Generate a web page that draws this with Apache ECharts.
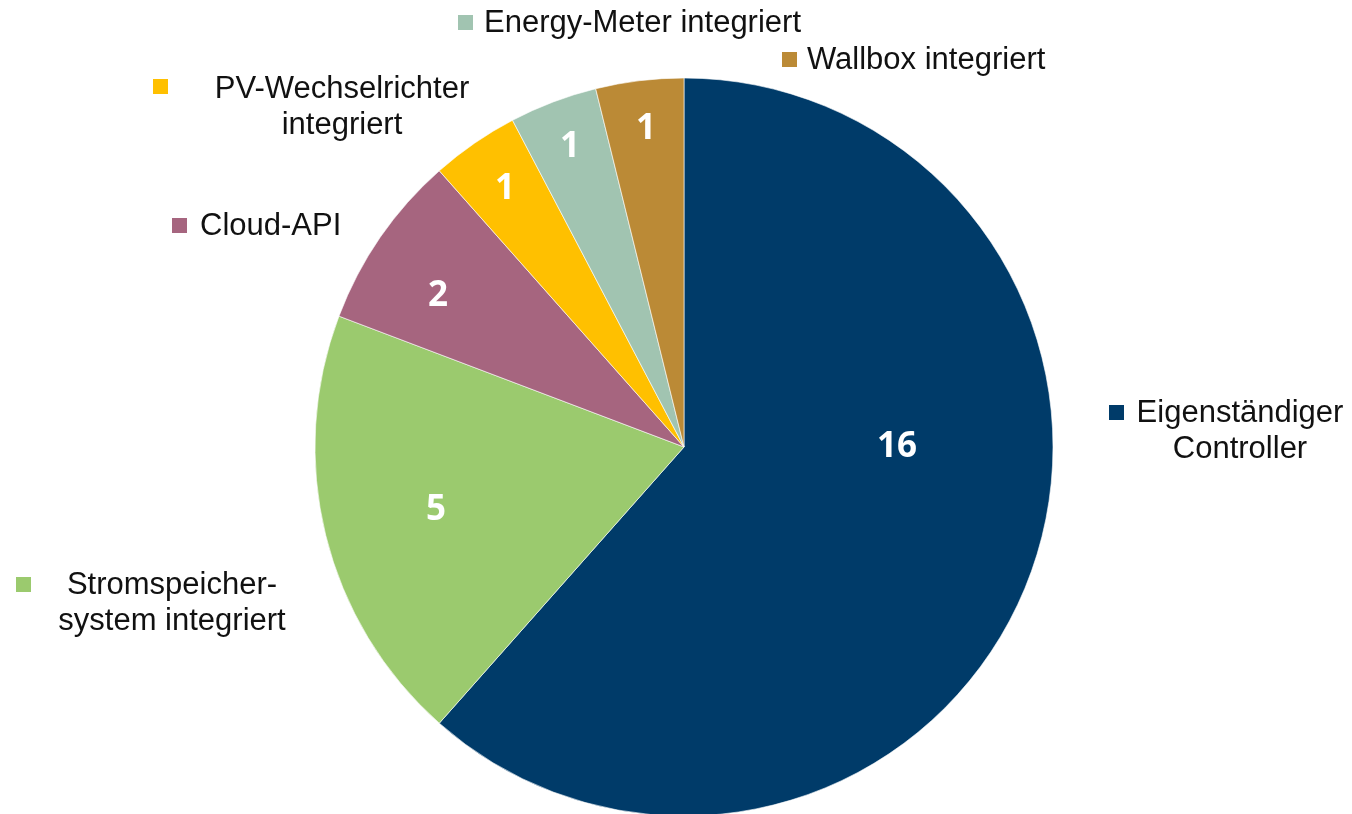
<!DOCTYPE html>
<html>
<head>
<meta charset="utf-8">
<script src="https://cdn.jsdelivr.net/npm/echarts@6/dist/echarts.min.js"></script>
<style>
html,body{margin:0;padding:0;background:#fff;}
#chart{width:1352px;height:814px;}
</style>
</head>
<body>
<div id="chart"></div>
<script>
// Data
var categories = ['Eigenständiger\nController', 'Stromspeicher-\nsystem integriert', 'Cloud-API', 'PV-Wechselrichter\nintegriert', 'Energy-Meter integriert', 'Wallbox integriert'];
var values = [16, 5, 2, 1, 1, 1];
var colors = ['#003B69', '#9BCA6E', '#A6657F', '#FFC000', '#A1C4B1', '#BB8A36'];

// Styles / positions (not data)
var valueLabelPos = [[897, 447], [436, 510], [438, 296], [505, 189], [570, 147], [646, 129]];
var nameLabel = [
  {marker: [1109, 405], text: [1240, 431], align: 'center'},
  {marker: [16, 577], text: [172, 603], align: 'center'},
  {marker: [172, 218], text: [200, 226], align: 'left'},
  {marker: [153, 79], text: [342, 107], align: 'center'},
  {marker: [458, 15], text: [484, 23], align: 'left'},
  {marker: [782, 52], text: [807, 60], align: 'left'}
];

var chart = echarts.init(document.getElementById('chart'), null, {renderer: 'canvas'});

var graphics = [];
categories.forEach(function (name, i) {
  var nl = nameLabel[i];
  graphics.push({
    type: 'rect', silent: true,
    shape: {x: nl.marker[0], y: nl.marker[1], width: 15, height: 15},
    style: {fill: colors[i]}
  });
  graphics.push({
    type: 'text', silent: true,
    x: nl.text[0], y: nl.text[1],
    style: {
      text: name,
      fill: '#111111',
      font: '31px "Liberation Sans", Arial, sans-serif',
      lineHeight: 36,
      align: nl.align,
      verticalAlign: 'middle'
    }
  });
});

chart.setOption({
  animation: false,
  backgroundColor: '#ffffff',
  graphic: graphics,
  series: [{
    type: 'pie',
    center: [684, 447],
    radius: [0, 369],
    startAngle: 90,
    clockwise: true,
    silent: true,
    data: categories.map(function (c, i) {
      return {name: c, value: values[i], itemStyle: {color: colors[i]}};
    }),
    itemStyle: {borderColor: '#ffffff', borderWidth: 0.6},
    label: {
      show: true,
      position: 'inside',
      formatter: '{c}',
      color: '#ffffff',
      fontFamily: '"Open Sans", sans-serif',
      fontWeight: 'bold',
      fontSize: 35
    },
    labelLine: {show: false},
    labelLayout: function (p) {
      var pos = valueLabelPos[p.dataIndex];
      return {x: pos[0], y: pos[1], align: 'center', verticalAlign: 'middle'};
    }
  }]
});
</script>
</body>
</html>
